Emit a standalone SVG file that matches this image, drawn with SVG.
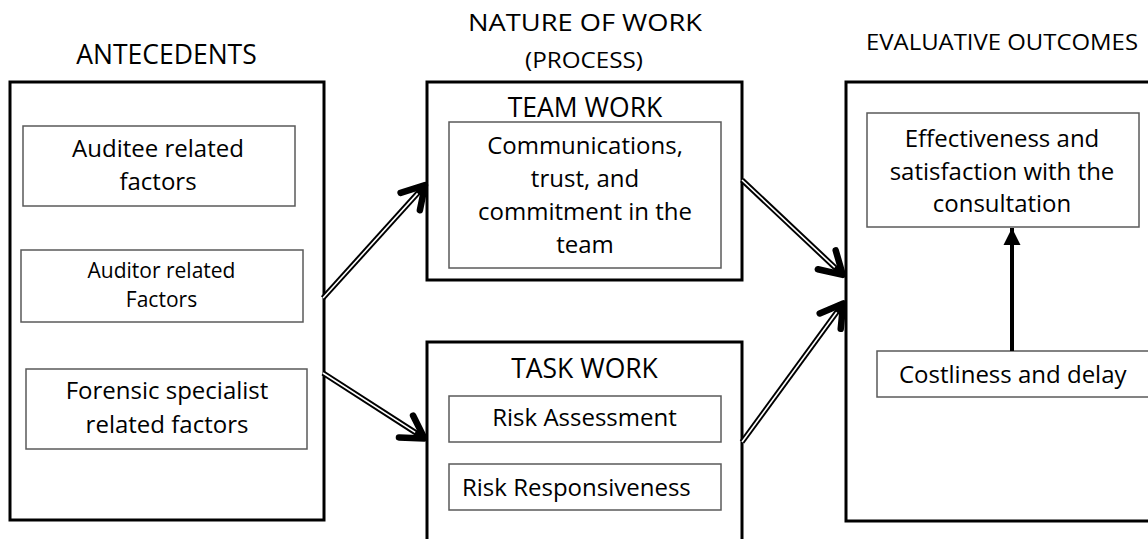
<svg xmlns="http://www.w3.org/2000/svg" width="1148" height="539" viewBox="0 0 1148 539">
  <style>
    .outer { fill: #ffffff; stroke: #000000; stroke-width: 3; }
    .inner { fill: #ffffff; stroke: #5a5a5a; stroke-width: 1.5; }
    text { font-family: "Open Sans", "Noto Sans", "Liberation Sans", sans-serif; fill: #000000; }
    .title { font-size: 26.5px; text-anchor: middle; }
    .head { font-size: 24px; text-anchor: middle; }
    .body { font-size: 24px; text-anchor: middle; }
    .small { font-size: 21px; text-anchor: middle; }
    .shaft { stroke: #000000; stroke-width: 5.5; fill: none; }
    .core { stroke: #ffffff; stroke-width: 1.6; fill: none; }
  </style>
  <defs>
    <marker id="chev" markerUnits="userSpaceOnUse" markerWidth="60" markerHeight="60" refX="0" refY="0" orient="auto" overflow="visible" viewBox="-30 -30 60 60">
      <path d="M -22 -13 L 0 0 L -22 13" fill="none" stroke="#000000" stroke-width="6.5" stroke-linecap="round" stroke-linejoin="round"/>
    </marker>
    <marker id="tri" markerUnits="userSpaceOnUse" markerWidth="40" markerHeight="40" refX="0" refY="0" orient="auto" overflow="visible" viewBox="-20 -20 40 40">
      <path d="M -17 -8.5 L 0 0 L -17 8.5 Z" fill="#000000"/>
    </marker>
  </defs>
  <rect width="1148" height="539" fill="#ffffff"/>

  <text class="title" x="166.5" y="64">ANTECEDENTS</text>
  <text class="head" x="585" y="31" textLength="234" lengthAdjust="spacingAndGlyphs">NATURE OF WORK</text>
  <text class="head" x="584" y="68" style="font-size:22px" textLength="118" lengthAdjust="spacingAndGlyphs">(PROCESS)</text>
  <text class="head" x="1002" y="50" style="font-size:22.5px" textLength="272" lengthAdjust="spacingAndGlyphs">EVALUATIVE OUTCOMES</text>

  <g id="antecedents">
    <rect class="outer" x="10" y="82" width="314" height="438"/>
  </g>
  <g id="auditee">
    <rect class="inner" x="23" y="126" width="272" height="80"/>
    <text class="body" x="158" y="157">Auditee related</text>
    <text class="body" x="158" y="190">factors</text>
  </g>
  <g id="auditor">
    <rect class="inner" x="21" y="250" width="282" height="72"/>
    <text class="small" x="161.5" y="278">Auditor related</text>
    <text class="small" x="161.5" y="307">Factors</text>
  </g>
  <g id="forensic">
    <rect class="inner" x="26" y="369" width="281" height="80"/>
    <text class="body" x="167" y="399">Forensic specialist</text>
    <text class="body" x="167" y="433">related factors</text>
  </g>

  <g id="teamwork">
    <rect class="outer" x="427" y="82" width="315" height="198"/>
    <text class="title" x="585" y="117">TEAM WORK</text>
  </g>
  <g id="teamwork-detail">
    <rect class="inner" x="449" y="122" width="272" height="146"/>
    <text class="body" x="585" y="154">Communications,</text>
    <text class="body" x="585" y="187">trust, and</text>
    <text class="body" x="585" y="220">commitment in the</text>
    <text class="body" x="585" y="253">team</text>
  </g>

  <g id="taskwork">
    <rect class="outer" x="427" y="342" width="315" height="210"/>
    <text class="title" x="584.5" y="378">TASK WORK</text>
  </g>
  <g id="risk-assessment">
    <rect class="inner" x="449" y="396" width="272" height="46"/>
    <text class="body" x="584.5" y="426">Risk Assessment</text>
  </g>
  <g id="risk-responsiveness">
    <rect class="inner" x="449" y="464" width="272" height="46"/>
    <text class="body" x="462" y="496" style="text-anchor:start">Risk Responsiveness</text>
  </g>

  <g id="outcomes">
    <rect class="outer" x="846" y="82" width="320" height="439"/>
  </g>
  <g id="effectiveness">
    <rect class="inner" x="867" y="113" width="272" height="114"/>
    <text class="body" x="1002" y="147">Effectiveness and</text>
    <text class="body" x="1002" y="180">satisfaction with the</text>
    <text class="body" x="1002" y="212">consultation</text>
  </g>
  <g id="costliness">
    <rect class="inner" x="877" y="351" width="290" height="46"/>
    <text class="body" x="899" y="383" style="text-anchor:start">Costliness and delay</text>
  </g>

  <g id="connectors">
    <line class="shaft" x1="323" y1="298" x2="425" y2="185.2" marker-end="url(#chev)"/>
    <line class="core" x1="323" y1="298" x2="417.6" y2="193.4"/>

    <line class="shaft" x1="323" y1="373" x2="424.5" y2="438.4" marker-end="url(#chev)"/>
    <line class="core" x1="323" y1="373" x2="415.2" y2="432.4"/>

    <line class="shaft" x1="742" y1="180" x2="842.8" y2="274.9" marker-end="url(#chev)"/>
    <line class="core" x1="742" y1="180" x2="834.8" y2="267.4"/>

    <line class="shaft" x1="742" y1="442" x2="843.2" y2="303.4" marker-end="url(#chev)"/>
    <line class="core" x1="742" y1="442" x2="836.7" y2="312.3"/>

    <line x1="1012" y1="351" x2="1012" y2="228" stroke="#000000" stroke-width="4" marker-end="url(#tri)"/>
  </g>
</svg>
